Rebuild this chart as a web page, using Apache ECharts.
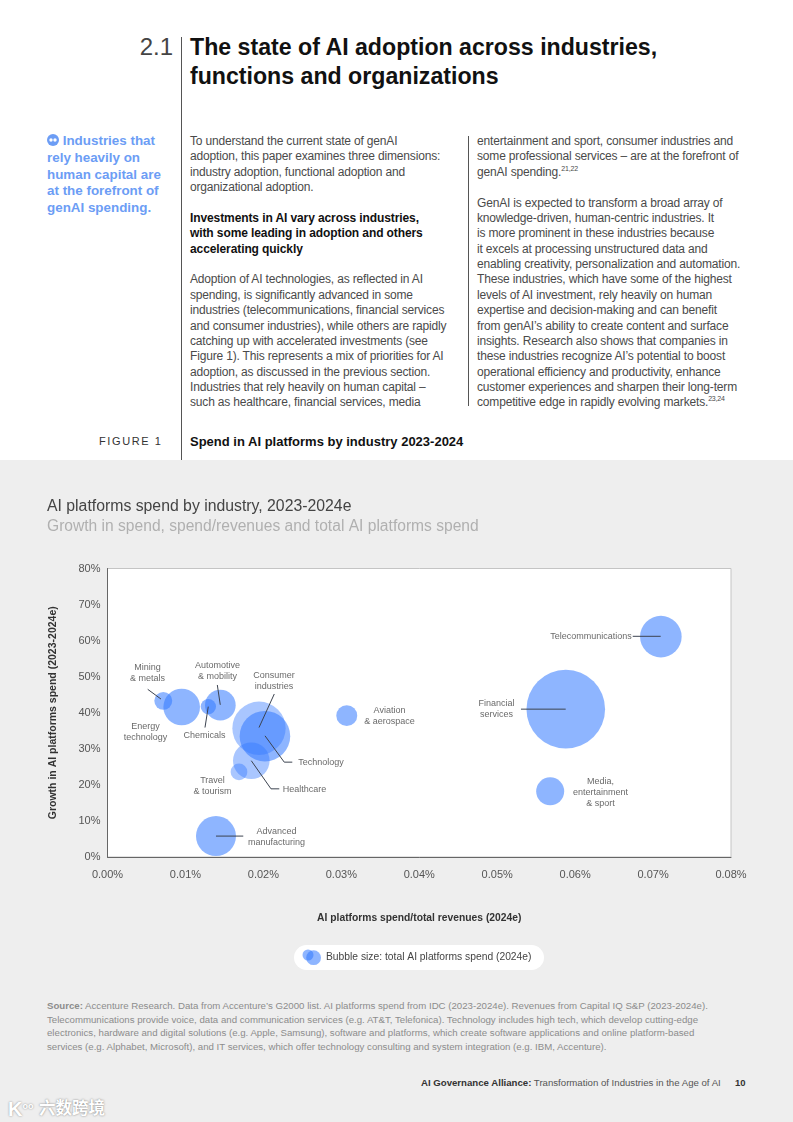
<!DOCTYPE html>
<html><head><meta charset="utf-8">
<script src="https://cdn.jsdelivr.net/npm/echarts@6/dist/echarts.min.js"></script>
<style>
html,body{margin:0;padding:0;background:#fff}
body{width:793px;height:1122px;position:relative;overflow:hidden;font-family:"Liberation Sans",Arial,sans-serif}
.t{position:absolute;white-space:nowrap}
.band{position:absolute;left:0;top:460px;width:793px;height:662px;background:#eeeeee}
#chart{position:absolute;left:0;top:460px;width:793px;height:520px}
.rule{position:absolute;background:#555;width:1px}
.col{position:absolute;font-size:12px;line-height:15.38px;color:#4a4a4a;letter-spacing:-.17px;white-space:pre}
.col b{color:#111;letter-spacing:-.1px}
sup{font-size:7px;line-height:0}
.side{position:absolute;left:47px;top:133px;font-size:13.4px;line-height:16.8px;font-weight:bold;color:#6c9df5;white-space:pre}
.src{position:absolute;left:47px;top:999px;font-size:9.67px;line-height:13.6px;color:#8c8c8c;white-space:pre}
</style></head><body>
<div class="band"></div>
<div class="t" style="left:112px;top:32px;width:61px;text-align:right;font-size:24px;line-height:30px;color:#444">2.1</div>
<div class="t" style="left:190px;top:33px;font-size:23.15px;line-height:29px;font-weight:bold;color:#111">The state of AI adoption across industries,<br>functions and organizations</div>
<div class="rule" style="left:181px;top:37px;height:423px"></div>
<div class="rule" style="left:468px;top:136px;height:270px"></div>
<div class="side"><svg width="12" height="12" viewBox="0 0 12 12" style="vertical-align:-1px"><circle cx="6" cy="6" r="6" fill="#6c9df5"/><circle cx="4" cy="6" r="1.7" fill="#fff"/><circle cx="8" cy="6" r="1.7" fill="#fff"/></svg> Industries that
rely heavily on
human capital are
at the forefront of
genAI spending.</div>
<div class="col" style="left:190px;top:134px">To understand the current state of genAI
adoption, this paper examines three dimensions:
industry adoption, functional adoption and
organizational adoption.

<b>Investments in AI vary across industries,
with some leading in adoption and others
accelerating quickly</b>

Adoption of AI technologies, as reflected in AI
spending, is significantly advanced in some
industries (telecommunications, financial services
and consumer industries), while others are rapidly
catching up with accelerated investments (see
Figure 1). This represents a mix of priorities for AI
adoption, as discussed in the previous section.
Industries that rely heavily on human capital –
such as healthcare, financial services, media</div>
<div class="col" style="left:477px;top:134px">entertainment and sport, consumer industries and
some professional services – are at the forefront of
genAI spending.<sup>21,22</sup>

GenAI is expected to transform a broad array of
knowledge-driven, human-centric industries. It
is more prominent in these industries because
it excels at processing unstructured data and
enabling creativity, personalization and automation.
These industries, which have some of the highest
levels of AI investment, rely heavily on human
expertise and decision-making and can benefit
from genAI’s ability to create content and surface
insights. Research also shows that companies in
these industries recognize AI’s potential to boost
operational efficiency and productivity, enhance
customer experiences and sharpen their long-term
competitive edge in rapidly evolving markets.<sup>23,24</sup></div>
<div class="t" style="left:99px;top:434px;font-size:11px;line-height:15px;letter-spacing:1.6px;color:#333">FIGURE 1</div>
<div class="t" style="left:190px;top:434px;font-size:13px;line-height:15px;font-weight:bold;color:#111">Spend in AI platforms by industry 2023-2024</div>
<div id="chart"></div>
<div class="src"><b>Source:</b> Accenture Research. Data from Accenture’s G2000 list. AI platforms spend from IDC (2023-2024e). Revenues from Capital IQ S&amp;P (2023-2024e).
Telecommunications provide voice, data and communication services (e.g. AT&amp;T, Telefonica). Technology includes high tech, which develop cutting-edge
electronics, hardware and digital solutions (e.g. Apple, Samsung), software and platforms, which create software applications and online platform-based
services (e.g. Alphabet, Microsoft), and IT services, which offer technology consulting and system integration (e.g. IBM, Accenture).</div>
<div class="t" style="left:421px;top:1077px;font-size:9.65px;line-height:12px;color:#555"><b style="color:#333">AI Governance Alliance:</b> Transformation of Industries in the Age of AI</div>
<div class="t" style="left:735px;top:1077px;font-size:9.5px;line-height:12px;font-weight:bold;color:#333">10</div>
<div class="t" style="left:8px;top:1094px;font-size:20px;line-height:24px;color:#fff;font-weight:bold;text-shadow:0 0 2px #888">K<span style="font-size:9px;vertical-align:7px">oo</span></div>
<div class="t" style="left:39px;top:1096px;font-size:16.5px;line-height:22px;color:#fff;font-family:'Noto Sans CJK SC';font-weight:bold;text-shadow:0 0 2px #777">六数跨境</div>
<script>
const industries = ['Mining & metals','Energy technology','Chemicals','Automotive & mobility','Consumer industries','Technology','Healthcare','Travel & tourism','Advanced manufacturing','Aviation & aerospace','Telecommunications','Financial services','Media, entertainment & sport'];
const spendShare = [0.00716,0.00952,0.01294,0.01448,0.01944,0.0202,0.01845,0.01687,0.01392,0.0307,0.071,0.0588,0.0568];
const growth = [43.3,41.6,41.7,42.1,35.7,33.5,26.7,23.6,5.8,39.2,61.1,41.0,18.2];
const totalSpend = [5.2,21.7,3.8,15.2,46,41.4,21.7,4.5,25.9,7.1,28,100,12.7];
const xTicksMax = 0.08, xStep = 0.01, yMax = 80, yStep = 10;

const labelTexts = ['Mining\n& metals','Energy\ntechnology','Automotive\n& mobility','Chemicals','Consumer\nindustries','Aviation\n& aerospace','Technology','Healthcare','Travel\n& tourism','Advanced\nmanufacturing','Telecommunications','Financial\nservices','Media,\nentertainment\n& sport'];
const labelX = [.00513,.00488,.01411,.01245,.02136,.03618,.02739,.02528,.01347,.02168,.06204,.04991,.06325];
const labelY = [51.0,34.7,51.6,33.8,48.9,39.1,26.3,18.6,19.7,5.5,61.2,41.0,17.8];

const leaders = [
 [[.00516,46.5],[.00686,43.8]],
 [[.01409,47.7],[.01447,42.2]],
 [[.01251,35.9],[.01293,41.7]],
 [[.0214,45.2],[.01944,35.9]],
 [[.02021,33.6],[.02268,26.3],[.02371,26.3]],
 [[.01845,26.7],[.02098,18.9],[.02204,18.9]],
 [[.01392,5.8],[.01742,5.8]],
 [[.06739,61.2],[.07098,61.2]],
 [[.05305,41.0],[.05879,41.0]]
];

const lighter = new Set(['Consumer industries','Healthcare','Travel & tourism']);
const bubbleData = industries.map((n,i)=>({name:n,value:[spendShare[i],growth[i],totalSpend[i]],
  itemStyle:{opacity:lighter.has(n)?0.42:0.55}}));

const chart = echarts.init(document.getElementById('chart'),null,{renderer:'canvas'});
chart.setOption({
  animation:false,
  backgroundColor:'transparent',
  textStyle:{fontFamily:'"Liberation Sans",Arial,sans-serif'},
  title:{left:47,top:38,padding:0,itemGap:2,text:'AI platforms spend by industry, 2023-2024e',subtext:'Growth in spend, spend/revenues and total AI platforms spend',
    textStyle:{fontSize:15.8,fontWeight:'normal',color:'#444',lineHeight:18},
    subtextStyle:{fontSize:15.6,color:'#b0b0b0',lineHeight:18}},
  grid:{left:107.5,top:108.5,width:623.5,height:288.5,show:true,backgroundColor:'#fff',borderColor:'#c4c4c4',borderWidth:1},
  xAxis:{type:'value',min:0,max:xTicksMax,interval:xStep,
    name:'AI platforms spend/total revenues (2024e)',nameLocation:'middle',nameGap:56,
    nameTextStyle:{fontSize:10.3,fontWeight:'bold',color:'#333'},
    axisLine:{show:true,onZero:false,lineStyle:{color:'#666',width:1}},axisTick:{show:false},splitLine:{show:false},
    axisLabel:{fontSize:11,color:'#555',margin:12,formatter:v=>v.toFixed(2)+'%',showMinLabel:true,showMaxLabel:true}},
  yAxis:{type:'value',min:0,max:yMax,interval:yStep,
    name:'Growth in AI platforms spend (2023-2024e)',nameLocation:'middle',nameGap:49,
    nameTextStyle:{fontSize:10.5,fontWeight:'bold',color:'#333'},
    axisLine:{show:true,onZero:false,lineStyle:{color:'#666',width:1}},axisTick:{show:false},splitLine:{show:false},
    axisLabel:{fontSize:11,color:'#555',margin:7,formatter:'{value}%'}},
  graphic:[
    {type:'rect',left:294,top:485,shape:{width:250,height:25,r:12.5},style:{fill:'#fff'},silent:true},
    {type:'circle',shape:{cx:308,cy:495,r:5.5},style:{fill:'rgba(50,120,255,.55)'},silent:true},
    {type:'circle',shape:{cx:313.6,cy:497.7,r:7.4},style:{fill:'rgba(50,120,255,.55)'},silent:true},
    {type:'text',left:326,top:492,style:{text:'Bubble size: total AI platforms spend (2024e)',fontSize:10.3,fill:'#444',fontFamily:'"Liberation Sans"'},silent:true}
  ],
  series:[
    {type:'scatter',name:'Industries',data:bubbleData,clip:false,z:2,
      symbolSize:d=>7.86*Math.sqrt(d[2]),
      itemStyle:{color:'rgb(50,120,255)'},silent:true},
    ...leaders.map((pts,i)=>({type:'line',name:'leader'+i,data:pts,symbol:'none',silent:true,z:3,clip:false,
      lineStyle:{color:'#3c4350',width:1}})),
    {type:'scatter',name:'labels',symbolSize:0,silent:true,z:4,
      data:labelTexts.map((t,i)=>({name:t,value:[labelX[i],labelY[i]]})),
      label:{show:true,position:'inside',formatter:p=>p.name,fontSize:9,lineHeight:11,color:'#444',align:'center',verticalAlign:'middle'}}
  ]
});
</script>
</body></html>
